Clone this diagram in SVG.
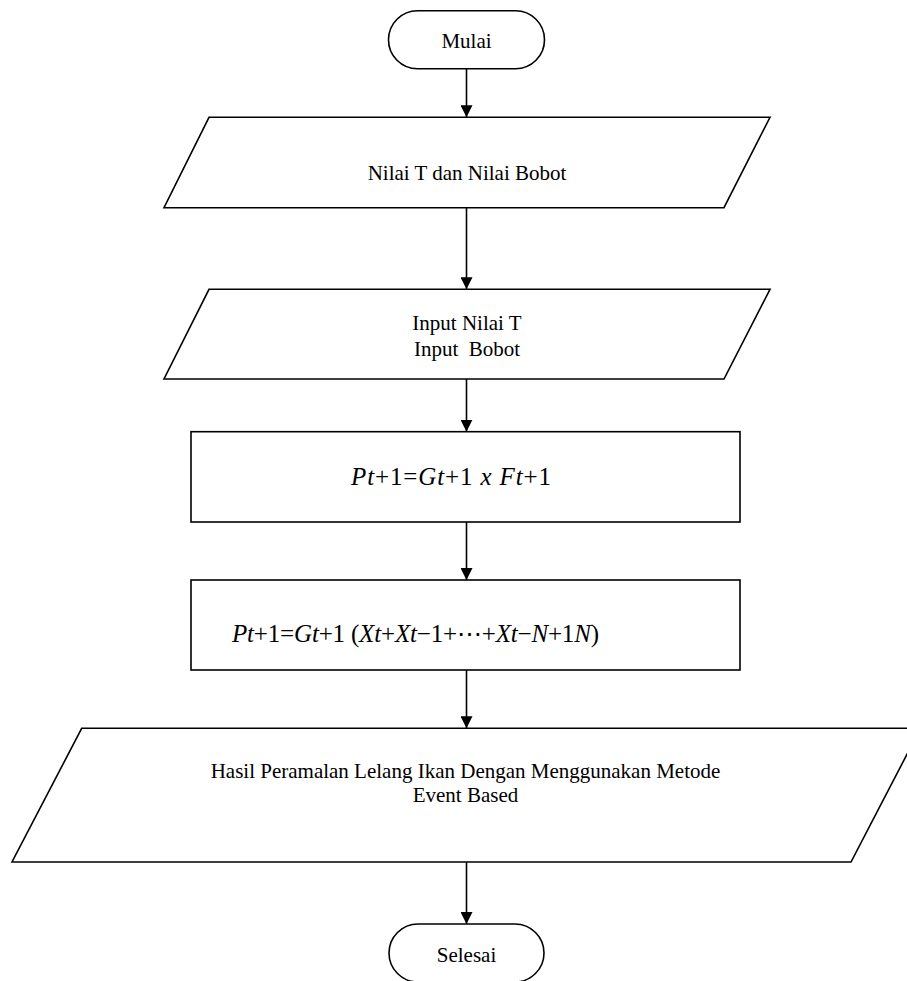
<svg xmlns="http://www.w3.org/2000/svg" width="907" height="981" viewBox="0 0 907 981">
  <style>
    .shape { fill: #ffffff; stroke: #000000; stroke-width: 1.6; }
    .label { font-family: "Liberation Serif", "Times New Roman", serif; font-size: 21px; fill: #000000; text-anchor: middle; }
    .math { font-family: "Liberation Serif", "Times New Roman", serif; font-size: 25px; fill: #000000; }
    .v { font-style: italic; }
    .flow { stroke: #000000; stroke-width: 1.6; fill: none; marker-end: url(#arrow); }
  </style>
  <defs>
    <marker id="arrow" markerUnits="userSpaceOnUse" markerWidth="12" markerHeight="12" refX="12" refY="6" orient="auto">
      <path d="M0,0 L12,6 L0,12 Z" fill="#000000"/>
    </marker>
  </defs>

  <rect width="907" height="981" fill="#ffffff"/>

  <!-- connectors -->
  <g id="connectors">
    <line class="flow" x1="466.5" y1="68.7" x2="466.5" y2="117.3"/>
    <line class="flow" x1="466.5" y1="207.7" x2="466.5" y2="289.3"/>
    <line class="flow" x1="466.5" y1="379" x2="466.5" y2="431.7"/>
    <line class="flow" x1="466.5" y1="522" x2="466.5" y2="580"/>
    <line class="flow" x1="466.5" y1="670" x2="466.5" y2="728.3"/>
    <line class="flow" x1="466.5" y1="862" x2="466.5" y2="924"/>
  </g>

  <!-- start terminator -->
  <g id="start">
    <rect class="shape" x="388.5" y="10.7" width="156" height="58" rx="29" ry="29"/>
    <text class="label" x="466.5" y="47.7">Mulai</text>
  </g>

  <!-- parameter data -->
  <g id="data-params">
    <polygon class="shape" points="209,117.3 770,117.3 724,207.7 164,207.7"/>
    <text class="label" x="467" y="180">Nilai T dan Nilai Bobot</text>
  </g>

  <!-- user input -->
  <g id="input-params">
    <polygon class="shape" points="209,289.3 770,289.3 724,379 164,379"/>
    <text class="label" x="467" y="330">Input Nilai T</text>
    <text class="label" x="467" y="356" xml:space="preserve">Input  Bobot</text>
  </g>

  <!-- forecast formula -->
  <g id="process-forecast">
    <rect class="shape" x="191" y="431.7" width="549" height="90.3"/>
    <text class="math" x="351" y="485" textLength="200" lengthAdjust="spacing"><tspan class="v">Pt</tspan>+1=<tspan class="v">Gt</tspan>+1 <tspan class="v">x Ft</tspan>+1</text>
  </g>

  <!-- weighted moving average formula -->
  <g id="process-average">
    <rect class="shape" x="191" y="580" width="549" height="90"/>
    <text class="math" x="232" y="641.5" textLength="367" lengthAdjust="spacing"><tspan class="v">Pt</tspan>+1=<tspan class="v">Gt</tspan>+1 (<tspan class="v">Xt</tspan>+<tspan class="v">Xt</tspan>−1+⋯+<tspan class="v">Xt</tspan>−<tspan class="v">N</tspan>+1<tspan class="v">N</tspan>)</text>
  </g>

  <!-- result output -->
  <g id="output-result">
    <polygon class="shape" points="81.7,728.3 920.5,728.3 851,862 12,862"/>
    <text class="label" x="465.5" y="778">Hasil Peramalan Lelang Ikan Dengan Menggunakan Metode</text>
    <text class="label" x="465.5" y="802">Event Based</text>
  </g>

  <!-- end terminator -->
  <g id="end">
    <rect class="shape" x="389" y="924" width="155" height="58" rx="29" ry="29"/>
    <text class="label" x="466.5" y="961.7">Selesai</text>
  </g>
</svg>
